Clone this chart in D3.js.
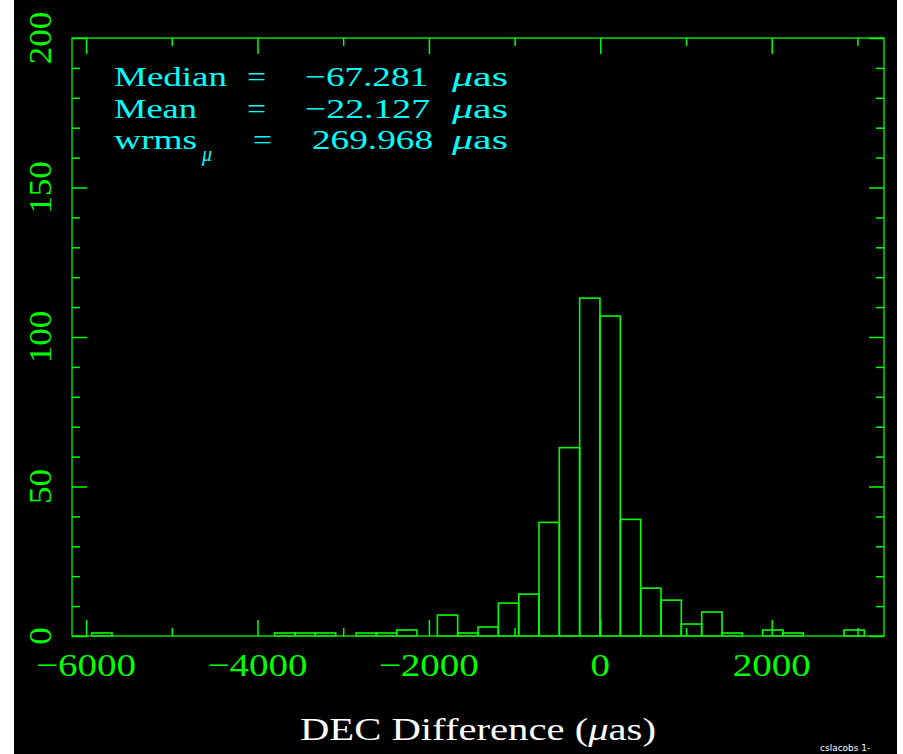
<!DOCTYPE html>
<html><head><meta charset="utf-8">
<script src="https://cdn.jsdelivr.net/npm/d3@7"></script>
<style>html,body{margin:0;padding:0;background:#fff;} svg{display:block;}</style>
</head><body>
<script>
// ---- data ----
const binLeft = [-5934, -3799, -3562, -3324, -2850, -2613, -2376, -1901, -1664, -1427, -1190, -952, -715, -478, -241, -4, 234, 471, 708, 945, 1183, 1420, 1894, 2131, 2843];
const counts  = [1, 1, 1, 1, 1, 1, 2, 7, 1, 3, 11, 14, 38, 63, 113, 107, 39, 16, 12, 4, 8, 1, 2, 1, 2];
const binWidth = 237;
const xTickValues = [-6000, -4000, -2000, 0, 2000];
const xTickLabels = ["\u22126000", "\u22124000", "\u22122000", "0", "2000"];
const yTickValues = [0, 50, 100, 150, 200];
const yTickLabels = ["0", "50", "100", "150", "200"];
const statNames = ["Median", "Mean", "wrms"];
const statValues = ["\u221267.281", "\u221222.127", "269.968"];
const xTitle = "DEC Difference (";
const footer = "cslacobs  1-";

const W = 903, H = 754;
const svg = d3.select("body").append("svg").attr("width", W).attr("height", H);
svg.append("rect").attr("x", 14).attr("y", 0).attr("width", 883).attr("height", H).attr("fill", "#000");

const L = 72, R = 884, T = 38, B = 636;
const x = d3.scaleLinear().domain([-6164, 3310]).range([L, R]);
const y = d3.scaleLinear().domain([0, 200]).range([B, T]);

const green = "#00ff00", frameGreen = "#00dd00", cyan = "#00ffff";
const serif = "'Liberation Serif', 'Times New Roman', serif";

// bars
svg.append("g").selectAll("rect").data(binLeft).join("rect")
  .attr("x", d => x(d)).attr("width", d => x(d + binWidth) - x(d))
  .attr("y", (d, i) => y(counts[i])).attr("height", (d, i) => y(0) - y(counts[i]))
  .attr("fill", "none").attr("stroke", green).attr("stroke-width", 1.6);

// frame
svg.append("rect").attr("x", L).attr("y", T).attr("width", R - L).attr("height", B - T)
  .attr("fill", "none").attr("stroke", frameGreen).attr("stroke-width", 1.5);

// ticks via d3 axes
function styleAxis(g) {
  g.select(".domain").remove();
  g.selectAll("line").attr("stroke", green).attr("stroke-width", 1.5);
  g.selectAll("text").remove();
}
const xMajor = d3.range(-6000, 3001, 2000), xMinor = d3.range(-5000, 3001, 2000);
const yMajor = d3.range(0, 201, 50), yMinor = d3.range(0, 201, 10).filter(v => v % 50 !== 0);
svg.append("g").attr("transform", `translate(0,${B})`).call(d3.axisTop(x).tickValues(xMajor).tickSize(16)).call(styleAxis);
svg.append("g").attr("transform", `translate(0,${B})`).call(d3.axisTop(x).tickValues(xMinor).tickSize(8)).call(styleAxis);
svg.append("g").attr("transform", `translate(0,${T})`).call(d3.axisBottom(x).tickValues(xMajor).tickSize(16)).call(styleAxis);
svg.append("g").attr("transform", `translate(0,${T})`).call(d3.axisBottom(x).tickValues(xMinor).tickSize(8)).call(styleAxis);
svg.append("g").attr("transform", `translate(${L},0)`).call(d3.axisRight(y).tickValues(yMajor).tickSize(15)).call(styleAxis);
svg.append("g").attr("transform", `translate(${L},0)`).call(d3.axisRight(y).tickValues(yMinor).tickSize(8)).call(styleAxis);
svg.append("g").attr("transform", `translate(${R},0)`).call(d3.axisLeft(y).tickValues(yMajor).tickSize(15)).call(styleAxis);
svg.append("g").attr("transform", `translate(${R},0)`).call(d3.axisLeft(y).tickValues(yMinor).tickSize(8)).call(styleAxis);

// x tick labels
svg.append("g").selectAll("text").data(xTickValues).join("text")
  .attr("x", d => x(d)).attr("y", 676)
  .attr("text-anchor", "middle")
  .attr("font-family", serif).attr("font-size", 32).attr("fill", green)
  .attr("textLength", (d, i) => xTickLabels[i].replace("\u2212", "").length * 19.5 + (xTickLabels[i].startsWith("\u2212") ? 22 : 0))
  .attr("lengthAdjust", "spacingAndGlyphs")
  .text((d, i) => xTickLabels[i]);

// y tick labels (rotated)
svg.append("g").selectAll("text").data(yTickValues).join("text")
  .attr("transform", d => `translate(51,${y(d)}) rotate(-90)`)
  .attr("text-anchor", "middle")
  .attr("font-family", serif).attr("font-size", 32).attr("fill", green)
  .attr("textLength", (d, i) => yTickLabels[i].length * 17.5)
  .attr("lengthAdjust", "spacingAndGlyphs")
  .text((d, i) => yTickLabels[i]);

// statistics text
const rowsY = [86, 118, 149];
const nameW = [113, 83, 83];
const eqX = [247, 247, 253];
const valW = [123, 125, 121];
const valEnd = [428, 430, 433];
const st = svg.append("g").attr("font-family", serif).attr("font-size", 27.5).attr("fill", cyan);
statNames.forEach((n, i) => {
  st.append("text").attr("x", 114).attr("y", rowsY[i]).attr("textLength", nameW[i]).attr("lengthAdjust", "spacingAndGlyphs").text(n);
  st.append("text").attr("x", eqX[i]).attr("y", rowsY[i]).attr("textLength", 19).attr("lengthAdjust", "spacingAndGlyphs").text("=");
  st.append("text").attr("x", valEnd[i] - valW[i]).attr("y", rowsY[i]).attr("textLength", valW[i]).attr("lengthAdjust", "spacingAndGlyphs").text(statValues[i]);
  const u = st.append("text").attr("x", 452).attr("y", rowsY[i]).attr("textLength", 56).attr("lengthAdjust", "spacingAndGlyphs");
  u.append("tspan").attr("font-style", "italic").text("\u03bc");
  u.append("tspan").text("as");
});
st.append("text").attr("x", 202).attr("y", 161).attr("font-size", 20).attr("font-style", "italic").text("\u03bc");

// x axis title
const tt = svg.append("text").attr("x", 300).attr("y", 740)
  .attr("font-family", serif).attr("font-size", 31).attr("fill", "#fff")
  .attr("textLength", 356).attr("lengthAdjust", "spacingAndGlyphs");
tt.append("tspan").text(xTitle);
tt.append("tspan").attr("font-style", "italic").text("\u03bc");
tt.append("tspan").text("as)");

// footer
svg.append("text").attr("x", 820).attr("y", 751)
  .attr("font-family", "'DejaVu Sans', sans-serif").attr("font-size", 9).attr("fill", "#fff")
  .text(footer);
</script>
</body></html>
